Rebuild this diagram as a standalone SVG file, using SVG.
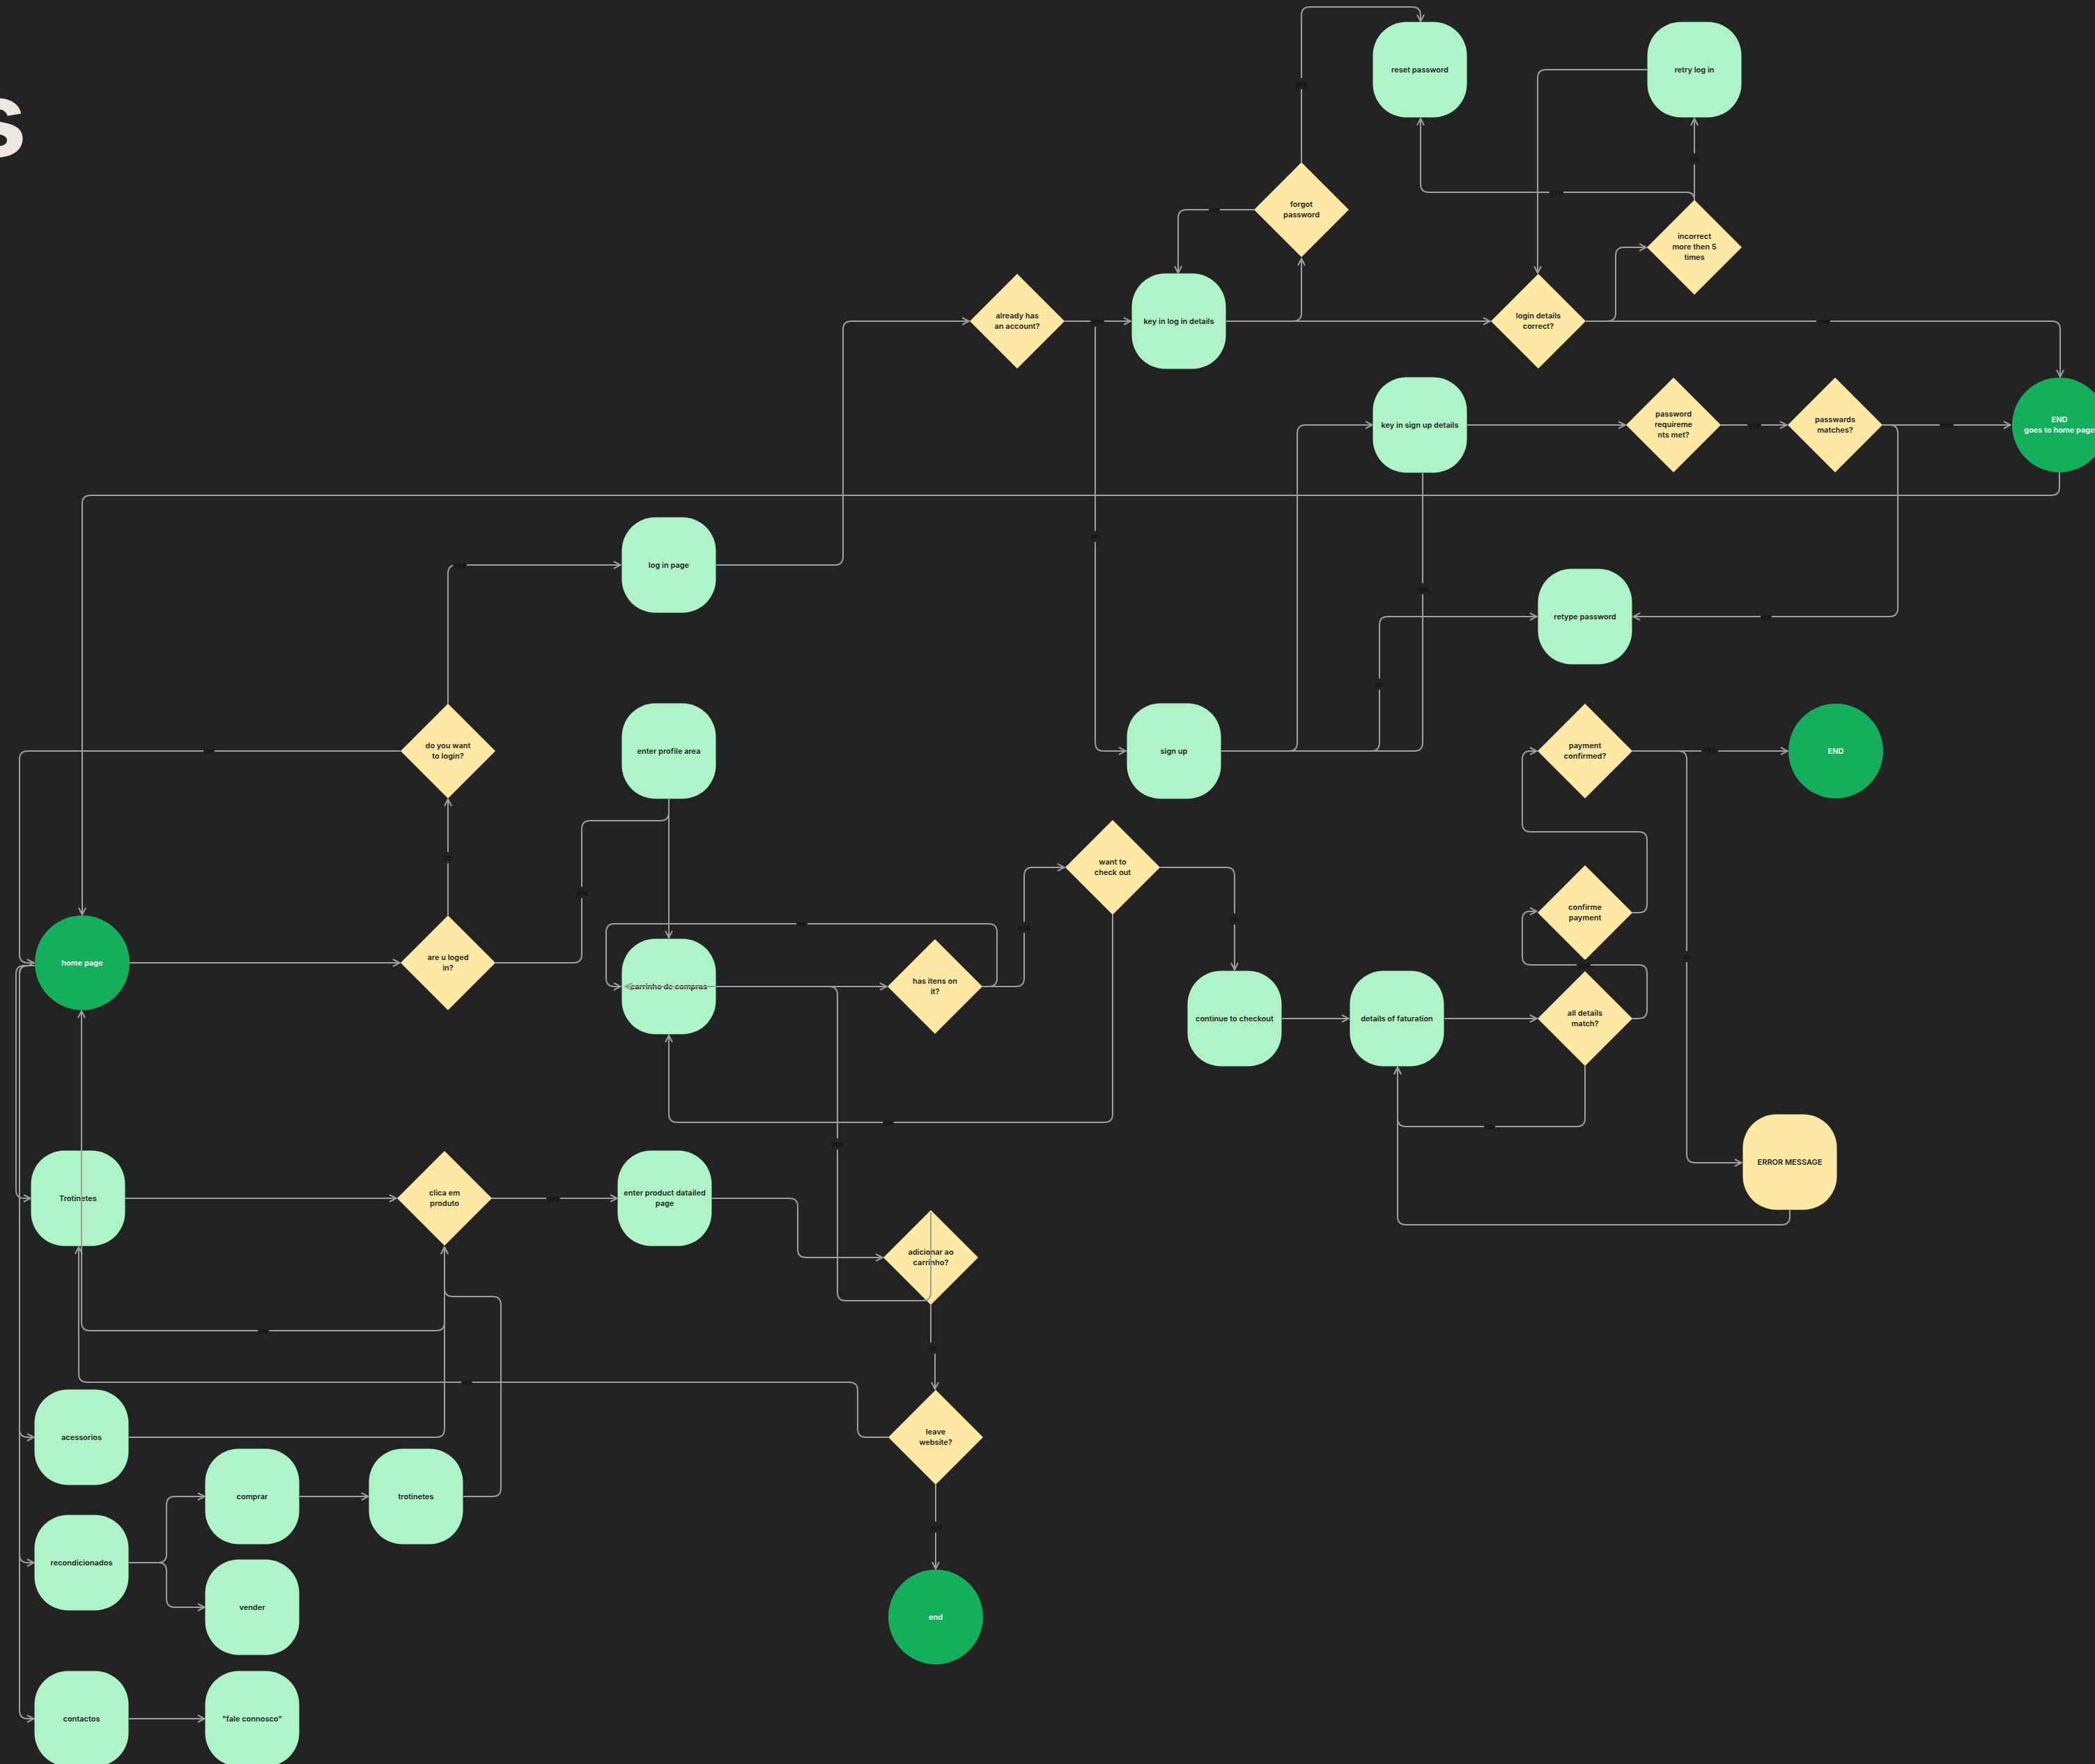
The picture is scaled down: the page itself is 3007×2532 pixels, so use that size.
<svg xmlns="http://www.w3.org/2000/svg" width="3007" height="2532" viewBox="0 0 3007 2532">
<style>
.bg{fill:#232323}
.n{fill:#AFF4C6}
.d{fill:#FFE8A3}
.g{fill:#14AE5C}
.t{font-family:Inter,"Liberation Sans",sans-serif;font-size:11px;font-weight:600;fill:#1E1E1E;text-anchor:middle}
.w{fill:#FFFFFF}
.c path{fill:none;stroke:#9E9E9E;stroke-width:2}
.a{marker-end:url(#arr)}
.lb rect{fill:#232323}
.lb text{font-family:Inter,"Liberation Sans",sans-serif;font-size:10px;font-weight:600;fill:#111111;text-anchor:middle}
.title{font-family:Inter,"Liberation Sans",sans-serif;font-size:150px;font-weight:700;fill:#EBE8E3}
</style>
<defs>
<marker id="arr" viewBox="0 0 12 12" refX="11" refY="6" markerWidth="12" markerHeight="12" markerUnits="userSpaceOnUse" orient="auto">
<path d="M1,1 L11,6 L1,11" fill="none" stroke="#9E9E9E" stroke-width="2"/>
</marker>
</defs>
<rect class="bg" x="0" y="0" width="3007" height="2532"/>
<text class="title" x="-46" y="224">s</text>

<g id="nodes">
<g id="reset-password"><rect class="n" x="1970.5" y="31.5" width="135" height="137" rx="48"/><text class="t" x="2038" y="104">reset password</text></g>
<g id="retry-log-in"><rect class="n" x="2364.5" y="31.5" width="135" height="137" rx="48"/><text class="t" x="2432" y="104">retry log in</text></g>
<g id="forgot-password"><polygon class="d" points="1868,233 1936,301 1868,369 1800,301"/><text class="t" x="1868" y="297">forgot</text><text class="t" x="1868" y="312">password</text></g>
<g id="already-has-account"><polygon class="d" points="1460,393 1528,461 1460,529 1392,461"/><text class="t" x="1460" y="457">already has</text><text class="t" x="1460" y="472">an account?</text></g>
<g id="key-in-log-in"><rect class="n" x="1624.5" y="392.5" width="135" height="137" rx="48"/><text class="t" x="1692" y="465">key in log in details</text></g>
<g id="login-details-correct"><polygon class="d" points="2208,393 2276,461 2208,529 2140,461"/><text class="t" x="2208" y="457">login details</text><text class="t" x="2208" y="472">correct?</text></g>
<g id="incorrect-5"><polygon class="d" points="2432,287 2500,355 2432,423 2364,355"/><text class="t" x="2432" y="343">incorrect</text><text class="t" x="2432" y="358">more then 5</text><text class="t" x="2432" y="373">times</text></g>
<g id="key-in-sign-up"><rect class="n" x="1970.5" y="541.5" width="135" height="137" rx="48"/><text class="t" x="2038" y="614">key in sign up details</text></g>
<g id="password-req"><polygon class="d" points="2402,542 2470,610 2402,678 2334,610"/><text class="t" x="2402" y="598">password</text><text class="t" x="2402" y="613">requireme</text><text class="t" x="2402" y="628">nts met?</text></g>
<g id="passwards-match"><polygon class="d" points="2634,542 2702,610 2634,678 2566,610"/><text class="t" x="2634" y="606">passwards</text><text class="t" x="2634" y="621">matches?</text></g>
<g id="end-home"><circle class="g" cx="2956" cy="610" r="68"/><text class="t w" x="2956" y="606">END</text><text class="t w" x="2956" y="621">goes to home page</text></g>
<g id="log-in-page"><rect class="n" x="892.5" y="742.5" width="135" height="137" rx="48"/><text class="t" x="960" y="815">log in page</text></g>
<g id="retype-password"><rect class="n" x="2207.5" y="816.5" width="135" height="137" rx="48"/><text class="t" x="2275" y="889">retype password</text></g>
<g id="do-you-want-login"><polygon class="d" points="643,1010 711,1078 643,1146 575,1078"/><text class="t" x="643" y="1074">do you want</text><text class="t" x="643" y="1089">to login?</text></g>
<g id="enter-profile"><rect class="n" x="892.5" y="1009.5" width="135" height="137" rx="48"/><text class="t" x="960" y="1082">enter profile area</text></g>
<g id="sign-up"><rect class="n" x="1617.5" y="1009.5" width="135" height="137" rx="48"/><text class="t" x="1685" y="1082">sign up</text></g>
<g id="payment-confirmed"><polygon class="d" points="2275,1010 2343,1078 2275,1146 2207,1078"/><text class="t" x="2275" y="1074">payment</text><text class="t" x="2275" y="1089">confirmed?</text></g>
<g id="end-payment"><circle class="g" cx="2635" cy="1078" r="68"/><text class="t w" x="2635" y="1082">END</text></g>
<g id="home-page"><circle class="g" cx="118" cy="1382" r="68"/><text class="t w" x="118" y="1386">home page</text></g>
<g id="are-u-loged-in"><polygon class="d" points="643,1314 711,1382 643,1450 575,1382"/><text class="t" x="643" y="1378">are u loged</text><text class="t" x="643" y="1393">in?</text></g>
<g id="carrinho"><rect class="n" x="892.5" y="1347.5" width="135" height="137" rx="48"/><text class="t" x="960" y="1420">carrinho de compras</text></g>
<g id="has-itens"><polygon class="d" points="1342,1348 1410,1416 1342,1484 1274,1416"/><text class="t" x="1342" y="1412">has itens on</text><text class="t" x="1342" y="1427">it?</text></g>
<g id="want-check-out"><polygon class="d" points="1597,1177 1665,1245 1597,1313 1529,1245"/><text class="t" x="1597" y="1241">want to</text><text class="t" x="1597" y="1256">check out</text></g>
<g id="continue-checkout"><rect class="n" x="1704.5" y="1393.5" width="135" height="137" rx="48"/><text class="t" x="1772" y="1466">continue to checkout</text></g>
<g id="details-faturation"><rect class="n" x="1937.5" y="1393.5" width="135" height="137" rx="48"/><text class="t" x="2005" y="1466">details of faturation</text></g>
<g id="confirme-payment"><polygon class="d" points="2275,1242 2343,1310 2275,1378 2207,1310"/><text class="t" x="2275" y="1306">confirme</text><text class="t" x="2275" y="1321">payment</text></g>
<g id="all-details-match"><polygon class="d" points="2275,1394 2343,1462 2275,1530 2207,1462"/><text class="t" x="2275" y="1458">all details</text><text class="t" x="2275" y="1473">match?</text></g>
<g id="error-message"><rect class="d" x="2501.5" y="1599.5" width="135" height="137" rx="48"/><text class="t" x="2569" y="1672">ERROR MESSAGE</text></g>
<g id="trotinetes-menu"><rect class="n" x="44.5" y="1651.5" width="135" height="137" rx="48"/><text class="t" x="112" y="1724">Trotinetes</text></g>
<g id="clica-produto"><polygon class="d" points="638,1652 706,1720 638,1788 570,1720"/><text class="t" x="638" y="1716">clica em</text><text class="t" x="638" y="1731">produto</text></g>
<g id="enter-product"><rect class="n" x="886.5" y="1651.5" width="135" height="137" rx="48"/><text class="t" x="954" y="1716">enter product datailed</text><text class="t" x="954" y="1731">page</text></g>
<g id="adicionar-carrinho"><polygon class="d" points="1336,1737 1404,1805 1336,1873 1268,1805"/><text class="t" x="1336" y="1801">adicionar ao</text><text class="t" x="1336" y="1816">carrinho?</text></g>
<g id="leave-website"><polygon class="d" points="1343,1995 1411,2063 1343,2131 1275,2063"/><text class="t" x="1343" y="2059">leave</text><text class="t" x="1343" y="2074">website?</text></g>
<g id="end-site"><circle class="g" cx="1343" cy="2321" r="68"/><text class="t w" x="1343" y="2325">end</text></g>
<g id="acessorios"><rect class="n" x="49.5" y="1994.5" width="135" height="137" rx="48"/><text class="t" x="117" y="2067">acessorios</text></g>
<g id="comprar"><rect class="n" x="294.5" y="2079.5" width="135" height="137" rx="48"/><text class="t" x="362" y="2152">comprar</text></g>
<g id="trotinetes-sub"><rect class="n" x="529.5" y="2079.5" width="135" height="137" rx="48"/><text class="t" x="597" y="2152">trotinetes</text></g>
<g id="recondicionados"><rect class="n" x="49.5" y="2174.5" width="135" height="137" rx="48"/><text class="t" x="117" y="2247">recondicionados</text></g>
<g id="vender"><rect class="n" x="294.5" y="2238.5" width="135" height="137" rx="48"/><text class="t" x="362" y="2311">vender</text></g>
<g id="contactos"><rect class="n" x="49.5" y="2398.5" width="135" height="137" rx="48"/><text class="t" x="117" y="2471">contactos</text></g>
<g id="fale-connosco"><rect class="n" x="294.5" y="2398.5" width="135" height="137" rx="48"/><text class="t" x="362" y="2471">"fale connosco"</text></g>
</g>

<g id="connectors" class="c">
<path class="a" d="M1868 233 V22 Q1868 10 1880 10 H2027 Q2039 10 2039 22 V31"/>
<path class="a" d="M1800 301 H1703 Q1691 301 1691 313 V392"/>
<path class="a" d="M1760 461 H1856 Q1868 461 1868 449 V371"/>
<path class="a" d="M1760 461 H2139"/>
<path class="a" d="M2364 100 H2219 Q2207 100 2207 112 V392"/>
<path class="a" d="M2432 287 V170"/>
<path class="a" d="M2432 287 Q2432 276 2421 276 H2051 Q2039 276 2039 264 V170"/>
<path class="a" d="M2276 461 H2307 Q2319 461 2319 449 V367 Q2319 355 2331 355 H2363"/>
<path class="a" d="M2276 461 H2945 Q2957 461 2957 473 V541"/>
<path class="a" d="M1528 461 H1623"/>
<path class="a" d="M1528 461 H1572 V1066 Q1572 1078 1584 1078 H1616"/>
<path class="a" d="M1028 811 H1198 Q1210 811 1210 799 V473 Q1210 461 1222 461 H1391"/>
<path class="a" d="M2106 610 H2333"/>
<path class="a" d="M2470 610 H2565"/>
<path class="a" d="M2702 610 H2886"/>
<path class="a" d="M2702 610 H2712 Q2724 610 2724 622 V873 Q2724 885 2712 885 H2344"/>
<path class="a" d="M2956 678 V699 Q2956 711 2944 711 H130 Q118 711 118 723 V1313"/>
<path class="a" d="M1753 1078 H1850 Q1862 1078 1862 1066 V622 Q1862 610 1874 610 H1970"/>
<path class="a" d="M1753 1078 H1968 Q1980 1078 1980 1066 V897 Q1980 885 1992 885 H2206"/>
<path d="M2042 679 V1066 Q2042 1078 2030 1078 H1753"/>
<path class="a" d="M643 1010 V823 Q643 811 655 811 H891"/>
<path class="a" d="M575 1078 H40 Q28 1078 28 1090 V1370 Q28 1382 40 1382 H49"/>
<path class="a" d="M186 1382 H574"/>
<path class="a" d="M643 1314 V1147"/>
<path d="M711 1382 H823 Q835 1382 835 1370 V1190 Q835 1178 847 1178 H948 Q960 1178 960 1166"/>
<path class="a" d="M960 1147 V1346"/>
<path class="a" d="M1028 1416 H1273"/>
<path class="a" d="M1410 1416 H1419 Q1431 1416 1431 1404 V1338 Q1431 1326 1419 1326 H882 Q870 1326 870 1338 V1404 Q870 1416 882 1416 H891"/>
<path class="a" d="M1410 1416 H1458 Q1470 1416 1470 1404 V1257 Q1470 1245 1482 1245 H1528"/>
<path class="a" d="M1665 1245 H1760 Q1772 1245 1772 1257 V1392"/>
<path class="a" d="M1597 1313 V1599 Q1597 1611 1585 1611 H972 Q960 1611 960 1599 V1486"/>
<path class="a" d="M1840 1462 H1936"/>
<path class="a" d="M2073 1462 H2206"/>
<path class="a" d="M2343 1462 H2352 Q2364 1462 2364 1450 V1397 Q2364 1385 2352 1385 H2197 Q2185 1385 2185 1373 V1320 Q2185 1308 2197 1308 H2206"/>
<path class="a" d="M2343 1310 H2352 Q2364 1310 2364 1298 V1206 Q2364 1194 2352 1194 H2197 Q2185 1194 2185 1182 V1090 Q2185 1078 2197 1078 H2206"/>
<path class="a" d="M2343 1078 H2566"/>
<path class="a" d="M2343 1078 H2409 Q2421 1078 2421 1090 V1657 Q2421 1669 2433 1669 H2500"/>
<path class="a" d="M2275 1530 V1605 Q2275 1617 2263 1617 H2018 Q2006 1617 2006 1605 V1532"/>
<path class="a" d="M2569 1737 V1746 Q2569 1758 2557 1758 H2018 Q2006 1758 2006 1746 V1532"/>
<path class="a" d="M180 1720 H569"/>
<path class="a" d="M706 1720 H886"/>
<path class="a" d="M1022 1720 H1133 Q1145 1720 1145 1732 V1793 Q1145 1805 1157 1805 H1267"/>
<path class="a" d="M1336 1740 V1855 Q1336 1867 1324 1867 H1214 Q1202 1867 1202 1855 V1428 Q1202 1416 1190 1416 H897"/>
<path class="a" d="M1336 1873 V1935 H1342 V1994"/>
<path class="a" d="M1343 2131 V2252"/>
<path class="a" d="M1275 2063 H1243 Q1231 2063 1231 2051 V1996 Q1231 1984 1219 1984 H125 Q113 1984 113 1972 V1790"/>
<path class="a" d="M638 1789 V1898 Q638 1910 626 1910 H129 Q117 1910 117 1898 V1451"/>
<path class="a" d="M50 1386 H35 Q23 1386 23 1398 V1708 Q23 1720 35 1720 H44"/>
<path class="a" d="M50 1386 H40 Q28 1386 28 1398 V2051 Q28 2063 40 2063 H49"/>
<path class="a" d="M50 1386 H40 Q28 1386 28 1398 V2231 Q28 2243 40 2243 H49"/>
<path class="a" d="M50 1386 H40 Q28 1386 28 1398 V2455 Q28 2467 40 2467 H49"/>
<path class="a" d="M185 2063 H626 Q638 2063 638 2051 V1790"/>
<path class="a" d="M665 2148 H707 Q719 2148 719 2136 V1873 Q719 1861 707 1861 H650 Q638 1861 638 1849 V1790"/>
<path class="a" d="M185 2243 H227 Q239 2243 239 2231 V2160 Q239 2148 251 2148 H294"/>
<path class="a" d="M185 2243 H227 Q239 2243 239 2255 V2295 Q239 2307 251 2307 H294"/>
<path class="a" d="M430 2148 H529"/>
<path class="a" d="M185 2467 H294"/>
</g>

<g id="labels" class="lb">
<rect x="1858" y="112" width="20" height="16"/><text x="1868" y="124">yes</text>
<rect x="1735" y="293" width="16" height="16"/><text x="1743" y="305">no</text>
<rect x="2424" y="220" width="16" height="16"/><text x="2432" y="232">no</text>
<rect x="2224" y="268" width="20" height="16"/><text x="2234" y="280">yes</text>
<rect x="1565" y="453" width="20" height="16"/><text x="1575" y="465">yes</text>
<rect x="2607" y="453" width="20" height="16"/><text x="2617" y="465">yes</text>
<rect x="2508" y="602" width="20" height="16"/><text x="2518" y="614">yes</text>
<rect x="2784" y="602" width="20" height="16"/><text x="2794" y="614">yes</text>
<rect x="1564" y="762" width="16" height="16"/><text x="1572" y="774">no</text>
<rect x="2033" y="837" width="20" height="16"/><text x="2043" y="849">yes</text>
<rect x="2527" y="877" width="16" height="16"/><text x="2535" y="889">no</text>
<rect x="1972" y="974" width="16" height="16"/><text x="1980" y="986">no</text>
<rect x="2442" y="1070" width="24" height="16"/><text x="2454" y="1082">YES</text>
<rect x="2413" y="1365" width="16" height="16"/><text x="2421" y="1377">no</text>
<rect x="2263" y="1377" width="20" height="16"/><text x="2273" y="1389">yes</text>
<rect x="2130" y="1609" width="16" height="16"/><text x="2138" y="1621">no</text>
<rect x="1762" y="1311" width="20" height="16"/><text x="1772" y="1323">yes</text>
<rect x="1460" y="1323" width="20" height="16"/><text x="1470" y="1335">yes</text>
<rect x="1143" y="1318" width="16" height="16"/><text x="1151" y="1330">no</text>
<rect x="1267" y="1603" width="16" height="16"/><text x="1275" y="1615">no</text>
<rect x="825" y="1273" width="20" height="16"/><text x="835" y="1285">yes</text>
<rect x="635" y="1223" width="16" height="16"/><text x="643" y="1235">no</text>
<rect x="650" y="803" width="20" height="16"/><text x="660" y="815">yes</text>
<rect x="292" y="1070" width="16" height="16"/><text x="300" y="1082">no</text>
<rect x="784" y="1712" width="20" height="16"/><text x="794" y="1724">yes</text>
<rect x="1192" y="1634" width="20" height="16"/><text x="1202" y="1646">yes</text>
<rect x="1331" y="1927" width="16" height="16"/><text x="1339" y="1939">no</text>
<rect x="1333" y="2184" width="20" height="16"/><text x="1343" y="2196">yes</text>
<rect x="662" y="1976" width="16" height="16"/><text x="670" y="1988">no</text>
<rect x="370" y="1902" width="16" height="16"/><text x="378" y="1914">no</text>
</g>
</svg>
